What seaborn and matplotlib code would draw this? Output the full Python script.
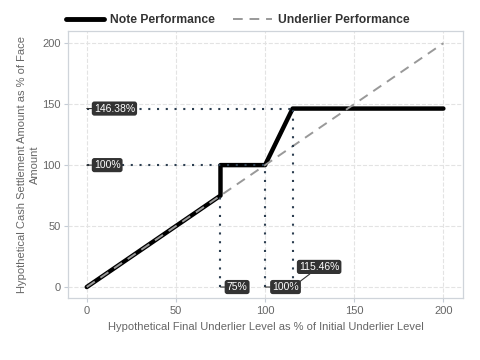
import numpy as np
import pandas as pd
import seaborn as sns
import matplotlib.pyplot as plt

# payoff profile
note_x = [0, 75, 75, 100, 115.46, 200]
note_y = [0, 75, 100, 100, 146.38, 146.38]
under_x = [0, 200]
under_y = [0, 200]

# reference levels
x_marks = [75, 100, 115.46]
x_mark_tops = [75, 100, 146.38]
y_marks = [146.38, 100]
y_mark_ends = [115.46, 100]
x_labels = ['75%', '100%', '115.46%']
y_labels = ['146.38%', '100%']

sns.set_style('whitegrid', {'grid.linestyle': '--', 'grid.color': '#e3e3e3',
                            'axes.edgecolor': '#cfd4da'})
plt.rcParams['font.family'] = ['Liberation Sans', 'DejaVu Sans']

fig = plt.figure(figsize=(4.8, 3.6), dpi=100)
ax = fig.add_axes([0.1417, 0.1722, 0.8229, 0.7417])

df_note = pd.DataFrame({'x': note_x, 'y': note_y})
df_under = pd.DataFrame({'x': under_x, 'y': under_y})

sns.lineplot(data=df_note, x='x', y='y', ax=ax, color='black', lw=3.2,
             sort=False, estimator=None, label='Note Performance', zorder=3)
sns.lineplot(data=df_under, x='x', y='y', ax=ax, color='#999999', lw=1.4,
             dashes=False, ls=(0, (5, 3.5)), estimator=None,
             label='Underlier Performance', zorder=4)

dot_col = '#2c3e50'
for xv, top in zip(x_marks, x_mark_tops):
    ax.plot([xv, xv], [0, top], ls=(0, (1, 3.2)), color=dot_col, lw=1.5, zorder=5)
for yv, end in zip(y_marks, y_mark_ends):
    ax.plot([0, end], [yv, yv], ls=(0, (1, 3.2)), color=dot_col, lw=1.5, zorder=5)

box = dict(boxstyle='round,pad=0.2,rounding_size=0.25', fc='#333333', ec='none')
leader = dict(arrowstyle='-', color='#333333', lw=0.8, shrinkA=0, shrinkB=0)
for yv, lab in zip(y_marks, y_labels):
    ax.annotate(lab, xy=(0, yv), xytext=(4, yv), ha='left', va='center',
                fontsize=7.5, color='white', bbox=box, arrowprops=leader, zorder=6)
x_text = [(78.5, 0), (104, 0), (119, 16.5)]
for xv, lab, (tx, ty) in zip(x_marks, x_labels, x_text):
    ax.annotate(lab, xy=(xv, 0), xytext=(tx, ty), ha='left', va='center',
                fontsize=7.5, color='white', bbox=box, arrowprops=leader, zorder=6)

ax.set_xlim(-10.5, 211)
ax.set_ylim(-9, 210)
ax.set_xticks([0, 50, 100, 150, 200])
ax.set_yticks([0, 50, 100, 150, 200])
ax.tick_params(axis='both', labelsize=8, labelcolor='#666666', length=3,
               color='#c5ccd6', width=0.8, pad=2)
ax.tick_params(axis='x', bottom=True, pad=3)
ax.tick_params(axis='y', left=True)
ax.grid(True, lw=0.8)
for s in ax.spines.values():
    s.set_linewidth(0.9)
ax.set_xlabel('Hypothetical Final Underlier Level as % of Initial Underlier Level',
              fontsize=8, color='#666666', labelpad=4)
ax.set_ylabel('Hypothetical Cash Settlement Amount as % of Face\nAmount',
              fontsize=8, color='#666666', labelpad=2, linespacing=1.35)

handles, labels = ax.get_legend_handles_labels()
ax.get_legend().remove()
leg = fig.legend(handles, labels, loc='center left', bbox_to_anchor=(0.114, 0.944),
                 ncol=2, frameon=False, handlelength=3.2, handletextpad=0.5,
                 columnspacing=1.5, prop={'weight': 'bold', 'size': 8.7})
for t in leg.get_texts():
    t.set_color('#333333')
leg.get_lines()[0].set_linewidth(3.5)

fig.savefig('out.png', dpi=100)
